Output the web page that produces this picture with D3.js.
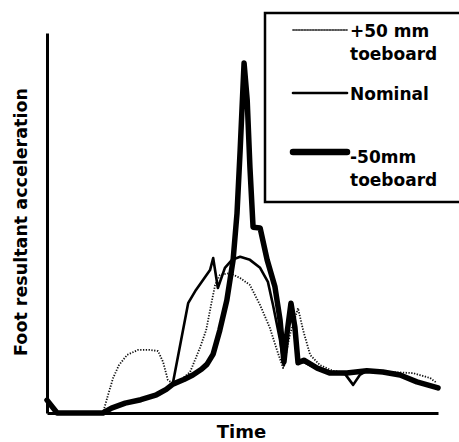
<!DOCTYPE html>
<html>
<head>
<meta charset="utf-8">
<script src="https://cdn.jsdelivr.net/npm/d3@7"></script>
<style>
  body { margin: 0; background: #fff; }
  svg { display: block; }
  text { font-family: "DejaVu Sans", sans-serif; font-weight: bold; fill: #000; }
</style>
</head>
<body>
<svg id="chart" width="459" height="442"></svg>
<script>
// time (0-100) and acceleration (0-100, arbitrary units)
var plus50Time = [0, 2.6, 14.3, 15.6, 16.9, 18.4, 20.5, 23.3, 26.3, 28.4, 29.7, 30.9, 32, 34, 36.6, 39.1, 40.7, 42.2, 43, 44.2, 46.8, 49.4, 51.9, 54.5, 57, 58.8, 60.4, 62.1, 64.2, 65.5, 67.3, 69.8, 73.1, 77.5, 81.8, 87.7, 93.6, 98, 99.7];
var plus50Acc  = [3.4, 0, 0, 4.7, 9.2, 12.6, 15.3, 16.6, 16.6, 16.3, 13.4, 8.7, 7.9, 8.4, 10.8, 17.1, 21.8, 29.7, 33.7, 36.3, 36.8, 35.5, 33.7, 28.4, 22.4, 16.6, 11.8, 20.5, 27.6, 21.8, 15.3, 12.6, 11.1, 10.5, 11.1, 10.8, 10.5, 9.2, 7.9];

var nominalTime = [0, 2.6, 14.3, 16.5, 20, 24, 28, 30.5, 32.2, 36.1, 38.1, 39.9, 41.7, 42.5, 43.7, 45.5, 47.3, 49.4, 51.9, 54.5, 56.5, 57.8, 59.6, 60.6, 62.1, 63.4, 64.2, 65.7, 69.1, 72.4, 76.2, 78.3, 80, 81.8, 85.9, 90.3, 94.6, 100];
var nominalAcc  = [3.4, 0, 0, 1.3, 2.6, 3.5, 4.8, 6.2, 7.9, 28.9, 32.4, 35, 37.6, 40.8, 32.9, 38.2, 40.3, 41.1, 40.3, 38.2, 34.5, 28.4, 19.2, 12.6, 27.1, 21.8, 13.2, 13.4, 11.6, 10.5, 10.3, 7.4, 10, 11.1, 10.8, 10, 8.2, 6.6];

var minus50Time = [0, 2.6, 14.3, 16.5, 20, 24, 28, 30.5, 32.2, 35, 37.3, 39.5, 40.9, 42.5, 44.2, 46, 47.6, 48.6, 49.4, 50.4, 51.2, 51.9, 52.7, 54.5, 56.3, 58.3, 59.6, 60.6, 61.4, 62.4, 63.4, 64.2, 65.7, 69.1, 72.4, 76.7, 81.8, 85.9, 90.3, 94.6, 100];
var minus50Acc  = [3.4, 0, 0, 1.3, 2.6, 3.5, 4.8, 6.2, 7.6, 8.8, 10, 11.5, 12.8, 15.5, 21.8, 29.7, 40.3, 52.6, 69.2, 92.1, 82.4, 64.7, 48.9, 48.7, 40.3, 33.2, 24.5, 13.4, 21.1, 28.9, 22.6, 13.2, 13.9, 11.8, 10.5, 10.5, 11.1, 10.8, 10, 8.2, 6.6];

var legendLabels = [["+50 mm", "toeboard"], ["Nominal"], ["-50mm", "toeboard"]];

var svg = d3.select("#chart");
var mLeft = 47, mRight = 438, mTop = 33, mBottom = 413;

var x = d3.scaleLinear().domain([0, 100]).range([mLeft, mRight]);
var y = d3.scaleLinear().domain([0, 100]).range([mBottom, mTop]);

var line = d3.line()
    .x(function (d) { return x(d[0]); })
    .y(function (d) { return y(d[1]); })
    .curve(d3.curveLinear);

var series = [
    { t: plus50Time, a: plus50Acc, width: 1.8, dash: "1.3,1.5", color: "#111" },
    { t: nominalTime, a: nominalAcc, width: 2.6, dash: null, color: "#000" },
    { t: minus50Time, a: minus50Acc, width: 5.5, dash: null, color: "#000" }
];

series.forEach(function (s) {
    var pts = d3.zip(s.t, s.a);
    svg.append("path")
        .datum(pts)
        .attr("d", line)
        .attr("fill", "none")
        .attr("stroke", s.color)
        .attr("stroke-width", s.width)
        .attr("stroke-linejoin", "round")
        .attr("stroke-linecap", s.dash ? "butt" : "round")
        .attr("stroke-dasharray", s.dash);
});

// axes: plain lines, no ticks
svg.append("g")
    .attr("transform", "translate(0," + mBottom + ")")
    .call(d3.axisBottom(x).tickValues([]).tickSizeOuter(0))
    .select(".domain").attr("stroke-width", 3);
svg.append("g")
    .attr("transform", "translate(" + mLeft + ",0)")
    .call(d3.axisLeft(y).tickValues([]).tickSizeOuter(0))
    .select(".domain").attr("stroke-width", 3);

svg.append("text")
    .attr("x", (mLeft + mRight) / 2 - 1)
    .attr("y", 438)
    .attr("text-anchor", "middle")
    .style("font-size", "18px")
    .text("Time");

svg.append("text")
    .attr("transform", "translate(27,222) rotate(-90)")
    .attr("text-anchor", "middle")
    .style("font-size", "17.5px")
    .text("Foot resultant acceleration");

// legend
var legend = svg.append("g");
legend.append("rect")
    .attr("x", 265).attr("y", 13)
    .attr("width", 210).attr("height", 189)
    .attr("fill", "#fff")
    .attr("stroke", "#000")
    .attr("stroke-width", 2.5);

var legendY = [30, 93, 152];
var legendText = [37, 100, 163];
series.forEach(function (s, i) {
    legend.append("line")
        .attr("x1", 293).attr("x2", 347)
        .attr("y1", legendY[i]).attr("y2", legendY[i])
        .attr("stroke", i == 0 ? "#555" : s.color)
        .attr("stroke-width", s.width + (i == 2 ? 1 : 0))
        .attr("stroke-linecap", "round")
        .attr("stroke-dasharray", s.dash);
    legendLabels[i].forEach(function (lbl, j) {
        legend.append("text")
            .attr("x", 350)
            .attr("y", legendText[i] + j * 23)
            .style("font-size", "17px")
            .text(lbl);
    });
});
</script>
</body>
</html>
